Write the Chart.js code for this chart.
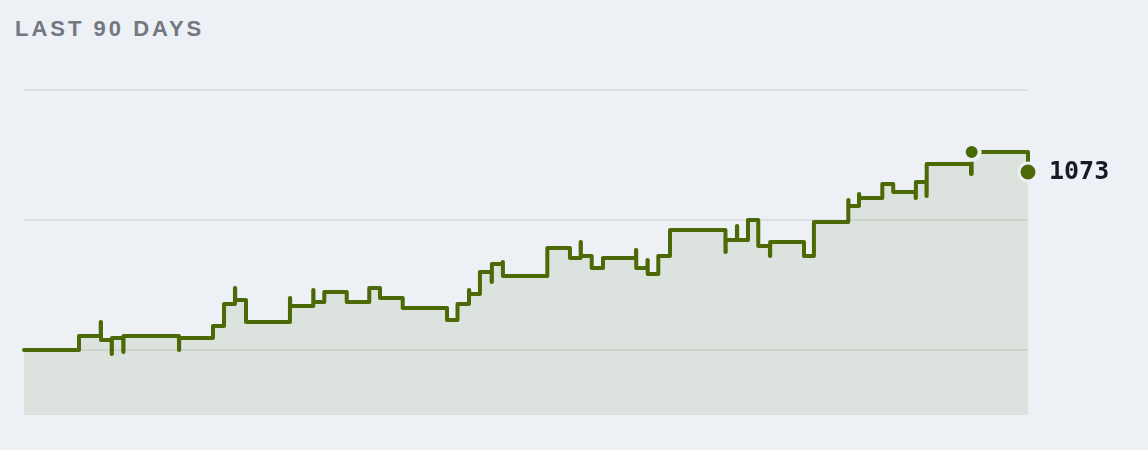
<!DOCTYPE html>
<html>
<head>
<meta charset="utf-8">
<script src="https://cdn.jsdelivr.net/npm/chart.js@4.4.0/dist/chart.umd.min.js"></script>
<style>
  html, body { margin: 0; padding: 0; background: #edf0f5; }
  #wrap { position: relative; width: 1148px; height: 450px; }
  #title {
    position: absolute; left: 15px; top: 18px;
    font: bold 22px "Liberation Sans", Arial, sans-serif;
    line-height: 22px; letter-spacing: 3px; color: #73777f;
  }
  canvas { position: absolute; left: 0; top: 0; }
</style>
</head>
<body>
<div id="wrap">
  <div id="title">LAST 90 DAYS</div>
  <canvas id="rating-chart" width="1148" height="450"></canvas>
</div>
<script>
// day offsets (0..90) where the rating changed
const days = [0, 4.93, 6.88, 6.9, 7.86, 7.88, 8.9, 8.92, 13.89, 13.91, 16.94, 17.93, 18.91, 18.93, 19.9,
  23.84, 23.86, 25.93, 25.95, 26.92, 28.93, 30.95, 31.91, 33.95, 37.92, 38.86, 39.89, 39.91, 40.87,
  41.92, 41.94, 42.91, 42.93, 46.91, 48.94, 49.9, 49.92, 50.89, 51.9, 54.86, 54.88, 55.89, 55.91,
  56.86, 57.91, 62.88, 62.9, 63.91, 63.93, 64.9, 65.82, 66.87, 66.89, 69.92, 70.81, 73.89, 73.91,
  74.85, 74.87, 76.94, 77.92, 79.93, 79.95, 80.9, 80.92, 84.89, 84.95, 90];

const ratings = [984, 991, 998, 989, 982, 990, 983, 991, 984, 990, 996, 1007, 1015, 1009, 998,
  1010, 1006, 1014, 1008, 1013, 1008, 1015, 1010, 1005, 999, 1007, 1014, 1012, 1023,
  1018, 1027, 1028, 1021, 1035, 1030, 1038, 1031, 1025, 1030, 1034, 1025, 1029, 1022,
  1031, 1044, 1033, 1039, 1046, 1039, 1049, 1036, 1031, 1038, 1031, 1048, 1059, 1056,
  1062, 1060, 1067, 1063, 1060, 1068, 1061, 1077, 1072, 1083, 1073];

const gridValues = [984, 1049, 1114];
const yMin = 951.5;
const yMax = 1114;

const bg = '#edf0f5';
const green = '#4b6a05';
const lastIdx = ratings.length - 1;
const peakIdx = ratings.length - 2;

const points = days.map((d, i) => ({ x: d, y: ratings[i] }));

const endLabel = {
  id: 'endLabel',
  afterDatasetsDraw(chart) {
    const pt = chart.getDatasetMeta(0).data[lastIdx];
    const ctx = chart.ctx;
    ctx.save();
    ctx.font = 'bold 25px "DejaVu Sans Mono", monospace';
    ctx.fillStyle = '#161b26';
    ctx.textBaseline = 'middle';
    ctx.textAlign = 'left';
    ctx.fillText(String(ratings[lastIdx]), pt.x + 21, pt.y);
    ctx.restore();
  }
};

const ctx = document.getElementById('rating-chart').getContext('2d');
new Chart(ctx, {
  type: 'line',
  data: {
    datasets: [{
      data: points,
      stepped: true,
      clip: 14,
      borderColor: green,
      borderWidth: 4,
      borderCapStyle: 'round',
      borderJoinStyle: 'round',
      fill: 'start',
      backgroundColor: 'rgba(77, 107, 6, 0.1)',
      pointRadius: c => c.dataIndex === lastIdx ? 9 : (c.dataIndex === peakIdx ? 8 : 0),
      pointHoverRadius: c => c.dataIndex === lastIdx ? 9 : (c.dataIndex === peakIdx ? 8 : 0),
      pointBorderWidth: c => c.dataIndex === lastIdx ? 3 : 4,
      pointBackgroundColor: green,
      pointBorderColor: bg
    }]
  },
  options: {
    responsive: false,
    animation: false,
    layout: { padding: { left: 24, right: 120, top: 90, bottom: 35 } },
    plugins: {
      legend: { display: false },
      tooltip: { enabled: false }
    },
    scales: {
      x: {
        type: 'linear',
        min: 0,
        max: 90,
        display: false
      },
      y: {
        min: yMin,
        max: yMax,
        afterBuildTicks: scale => { scale.ticks = gridValues.map(v => ({ value: v })); },
        ticks: { display: false },
        border: { display: false },
        grid: { color: '#dcdfe4', lineWidth: 2, drawTicks: false }
      }
    }
  },
  plugins: [endLabel]
});
</script>
</body>
</html>
